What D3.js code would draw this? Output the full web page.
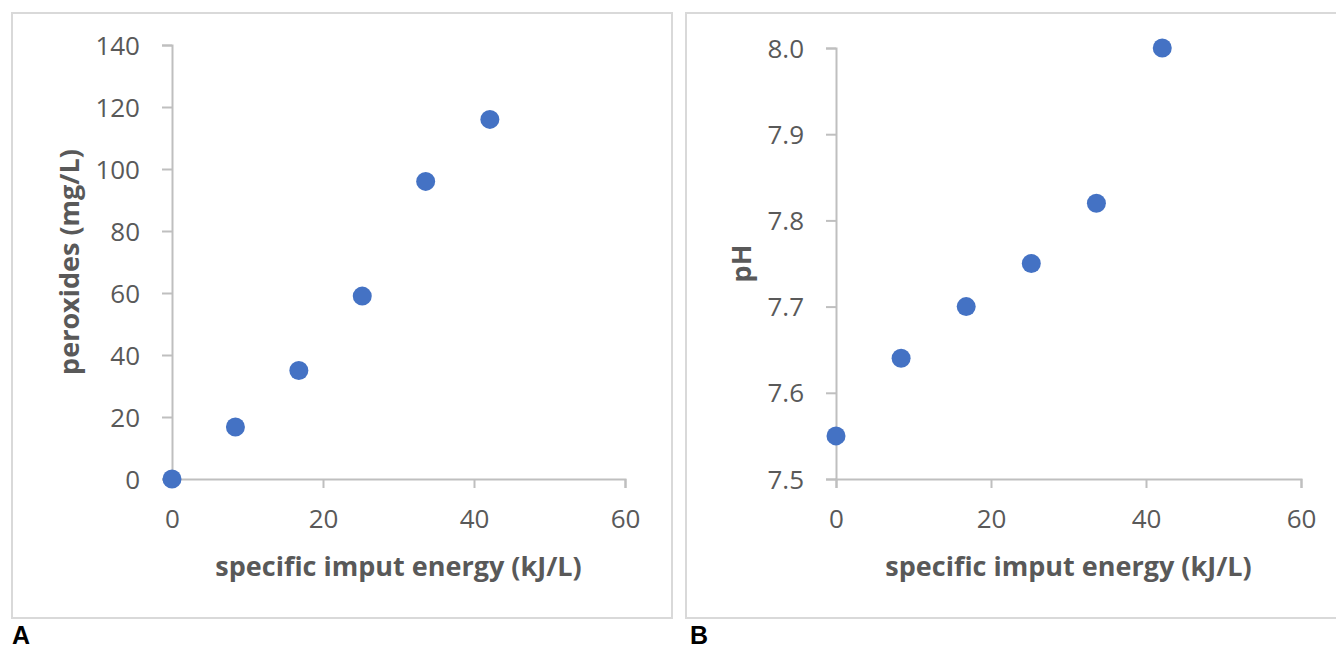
<!DOCTYPE html>
<html>
<head>
<meta charset="utf-8">
<script src="https://cdn.jsdelivr.net/npm/d3@7"></script>
<style>
  body { margin: 0; background: #fff; }
  text { font-family: "Open Sans", sans-serif; }
</style>
</head>
<body>
<svg id="chart" width="1336" height="648"></svg>
<script>
// energy values (kJ/L), shared by both panels
const energy = [0, 8.4, 16.8, 25.2, 33.6, 42.1];
const peroxides = [0, 16.8, 35, 59, 96, 116];
const ph = [7.55, 7.64, 7.70, 7.75, 7.82, 8.0];

const xTicks = [0, 20, 40, 60];
const peroxTicks = [0, 20, 40, 60, 80, 100, 120, 140];
const phTicks = [7.5, 7.6, 7.7, 7.8, 7.9, 8.0];

const svg = d3.select("#chart");

const panels = [
    { box: [12, 13, 660, 605], plot: [172, 45, 625, 479], yDomain: [0, 140], yTicks: peroxTicks,
      yFmt: d3.format("d"), values: peroxides, yTitle: "peroxides (mg/L)", yTitleX: 70, tag: "A", tagX: 12 },
    { box: [686, 13, 660, 605], plot: [836, 48, 1301, 479], yDomain: [7.5, 8.0], yTicks: phTicks,
      yFmt: d3.format(".1f"), values: ph, yTitle: "pH", yTitleX: 742, tag: "B", tagX: 690 }
];

panels.forEach(p => {
    const [bx, by, bw, bh] = p.box;
    const [x0, y0, x1, y1] = p.plot;

    svg.append("rect")
        .attr("x", bx).attr("y", by)
        .attr("width", bw).attr("height", bh)
        .attr("fill", "none")
        .attr("stroke", "#d9d9d9")
        .attr("stroke-width", 2);

    const x = d3.scaleLinear().domain([0, 60]).range([x0, x1]);
    const y = d3.scaleLinear().domain(p.yDomain).range([y1, y0]);

    const g = svg.append("g");

    const xAxis = g.append("g")
        .attr("transform", `translate(0,${y1})`)
        .call(d3.axisBottom(x).tickValues(xTicks).tickSize(9).tickPadding(22).tickFormat(d3.format("d")));

    const yAxis = g.append("g")
        .attr("transform", `translate(${x0},0)`)
        .call(d3.axisLeft(y).tickValues(p.yTicks).tickSize(10).tickPadding(22).tickFormat(p.yFmt));

    [xAxis, yAxis].forEach(a => {
        a.select(".domain").attr("stroke", "#bfbfbf").attr("stroke-width", 2);
        a.selectAll(".tick line").attr("stroke", "#bfbfbf").attr("stroke-width", 2);
        a.selectAll(".tick text")
            .attr("fill", "#595959")
            .style("font-family", "'Open Sans', sans-serif")
            .style("font-size", "26px");
    });
    yAxis.selectAll(".tick text").attr("dy", "0.35em");

    g.append("text")
        .attr("x", (x0 + x1) / 2)
        .attr("y", y1 + 97)
        .attr("text-anchor", "middle")
        .attr("fill", "#595959")
        .style("font-size", "27px")
        .style("font-weight", "bold")
        .text("specific imput energy (kJ/L)");

    g.append("text")
        .attr("transform", `translate(${p.yTitleX},${(y0 + y1) / 2}) rotate(-90)`)
        .attr("text-anchor", "middle")
        .attr("dy", "0.35em")
        .attr("fill", "#595959")
        .style("font-size", "27px")
        .style("font-weight", "bold")
        .text(p.yTitle);

    g.append("g")
        .selectAll("circle")
        .data(energy.map((e, i) => ({ e, v: p.values[i] })))
        .enter().append("circle")
        .attr("cx", d => x(d.e))
        .attr("cy", d => y(d.v))
        .attr("r", 9.5)
        .attr("fill", "#4472c4");

    svg.append("text")
        .attr("x", p.tagX)
        .attr("y", 644)
        .style("font-family", "Arial, 'Liberation Sans', sans-serif")
        .style("font-size", "25px")
        .style("font-weight", "bold")
        .attr("fill", "#000")
        .text(p.tag);
});
</script>
</body>
</html>
